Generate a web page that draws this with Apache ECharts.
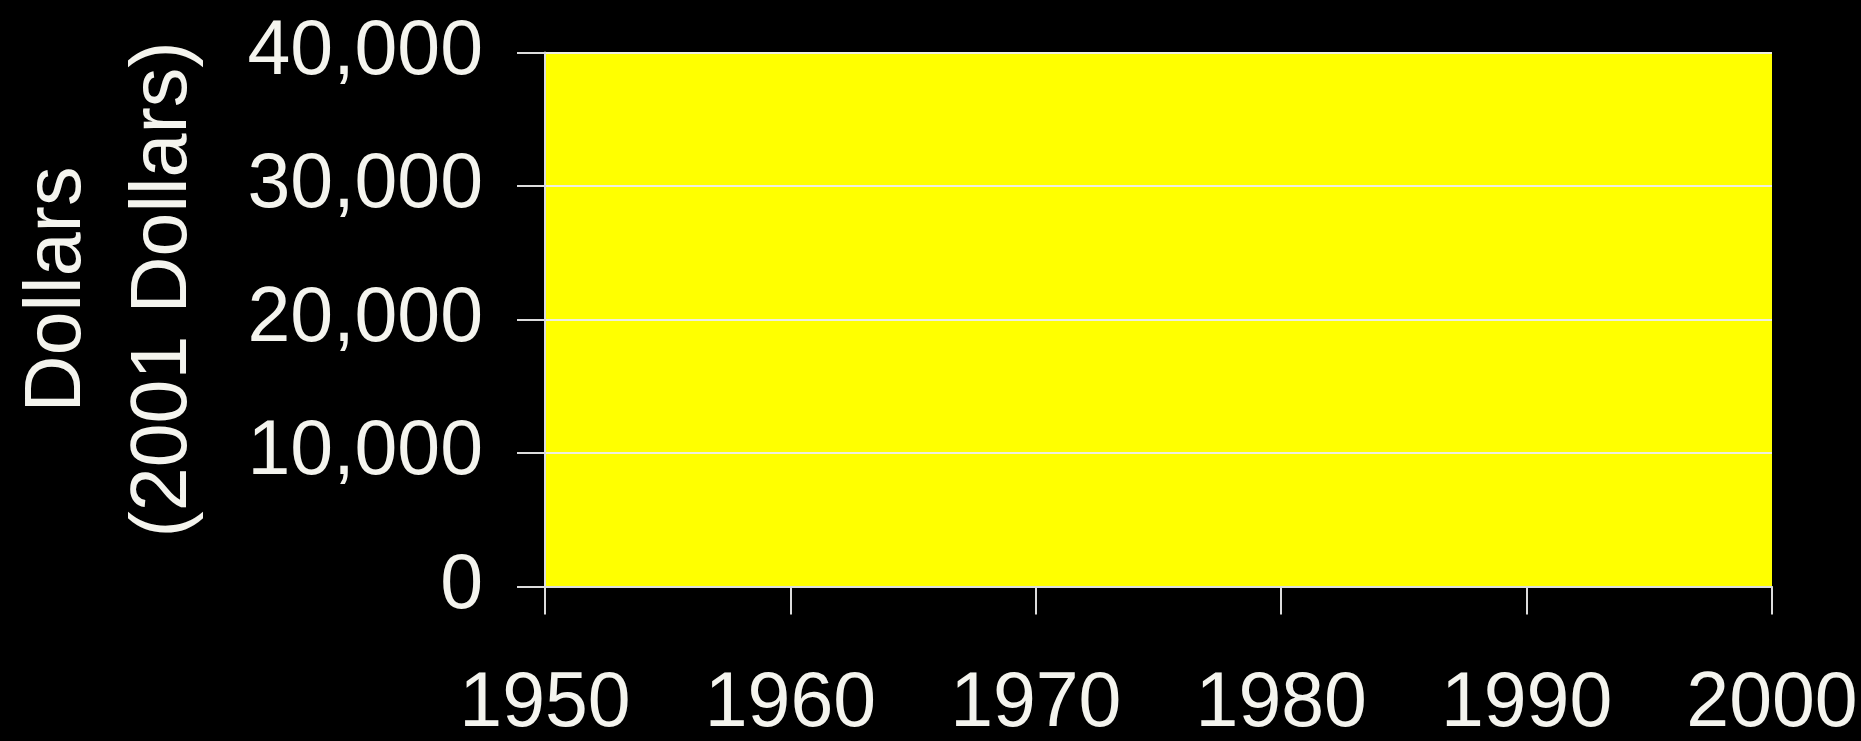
<!DOCTYPE html>
<html>
<head>
<meta charset="utf-8">
<title>Dollars (2001 Dollars), 1950–2000</title>
<script src="https://cdn.jsdelivr.net/npm/echarts@6/dist/echarts.min.js"></script>
<style>
  html, body { margin: 0; padding: 0; background: #000; }
  #chart { width: 1861px; height: 741px; }
</style>
</head>
<body>
<div id="chart"></div>
<script>
// Years along the horizontal axis
const years = [
  1950, 1951, 1952, 1953, 1954, 1955, 1956, 1957, 1958, 1959,
  1960, 1961, 1962, 1963, 1964, 1965, 1966, 1967, 1968, 1969,
  1970, 1971, 1972, 1973, 1974, 1975, 1976, 1977, 1978, 1979,
  1980, 1981, 1982, 1983, 1984, 1985, 1986, 1987, 1988, 1989,
  1990, 1991, 1992, 1993, 1994, 1995, 1996, 1997, 1998, 1999,
  2000
];

// Dollar amounts per year (2001 dollars); every year reaches the top of the scale
const dollars = [
  40000, 40000, 40000, 40000, 40000, 40000, 40000, 40000, 40000, 40000,
  40000, 40000, 40000, 40000, 40000, 40000, 40000, 40000, 40000, 40000,
  40000, 40000, 40000, 40000, 40000, 40000, 40000, 40000, 40000, 40000,
  40000, 40000, 40000, 40000, 40000, 40000, 40000, 40000, 40000, 40000,
  40000, 40000, 40000, 40000, 40000, 40000, 40000, 40000, 40000, 40000,
  40000
];

// Axis settings
const yTicks = [0, 10000, 20000, 30000, 40000];
const xTicks = [1950, 1960, 1970, 1980, 1990, 2000];
const yTitleLines = ['Dollars', '(2001 Dollars)'];

const points = years.map((y, i) => [y, dollars[i]]);

const textColor = '#f4f4ee';
const lineColor = '#dcdcdc';
const fontFamily = '"Liberation Sans", Arial, sans-serif';

const chart = echarts.init(document.getElementById('chart'), null, { renderer: 'canvas' });

chart.setOption({
  backgroundColor: '#000000',
  animation: false,
  grid: {
    left: 545,
    right: 89,
    top: 52.5,
    bottom: 154.5,
    containLabel: false,
    outerBoundsMode: 'none'
  },
  xAxis: {
    type: 'value',
    min: xTicks[0],
    max: xTicks[xTicks.length - 1],
    interval: xTicks[1] - xTicks[0],
    z: 5,
    axisLine: { show: true, lineStyle: { color: lineColor, width: 2 } },
    axisTick: { show: true, inside: false, length: 28, lineStyle: { color: lineColor, width: 2 } },
    splitLine: { show: false },
    axisLabel: {
      color: textColor,
      fontFamily: fontFamily,
      fontSize: 77,
      margin: 80,
      formatter: v => String(v)
    }
  },
  yAxis: {
    type: 'value',
    min: yTicks[0],
    max: yTicks[yTicks.length - 1],
    interval: yTicks[1] - yTicks[0],
    z: 5,
    axisLine: { show: true, lineStyle: { color: lineColor, width: 2 } },
    axisTick: { show: true, inside: false, length: 28, lineStyle: { color: lineColor, width: 2 } },
    splitLine: { show: true, lineStyle: { color: '#eeeee0', width: 2 } },
    axisLabel: {
      color: textColor,
      fontFamily: fontFamily,
      fontSize: 77,
      margin: 62,
      formatter: v => v.toLocaleString('en-US')
    },
    name: yTitleLines.join('\n'),
    nameLocation: 'middle',
    nameGap: 328,
    nameRotate: 90,
    nameTextStyle: {
      color: textColor,
      fontFamily: fontFamily,
      fontSize: 79,
      lineHeight: 106,
      align: 'center',
      padding: [0, 0, 0, 60]
    }
  },
  series: [{
    type: 'line',
    data: points,
    showSymbol: false,
    symbol: 'none',
    clip: true,
    lineStyle: { width: 0, color: '#ffff00' },
    itemStyle: { color: '#ffff00' },
    areaStyle: { color: '#ffff00', opacity: 1 },
    z: 2
  }]
});
</script>
</body>
</html>
